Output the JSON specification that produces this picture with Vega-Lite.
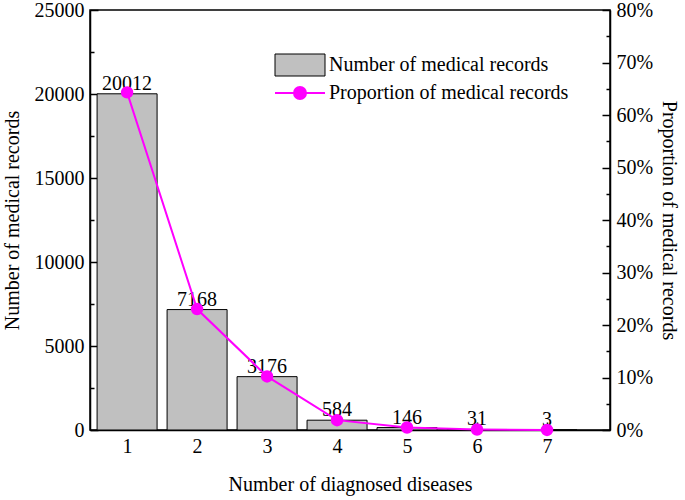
{
  "$schema": "https://vega.github.io/schema/vega-lite/v6.json",
  "autosize": "none",
  "width": 520,
  "height": 420,
  "padding": {"left": 90, "top": 10, "right": 75, "bottom": 70},
  "background": "white",
  "config": {
    "font": "Liberation Serif",
    "view": {"stroke": "black", "strokeWidth": 1.5},
    "axis": {"grid": false, "domainColor": "black", "domainWidth": 1.5, "labelFont": "Liberation Serif", "titleFont": "Liberation Serif", "labelFontSize": 20, "titleFontSize": 20, "labelColor": "black", "titleColor": "black", "titleFontWeight": "normal"},
    "legend": {"labelFont": "Liberation Serif", "labelFontSize": 20, "labelColor": "black", "labelLimit": 0}
  },
  "data": {"values": [
    {"n": 1, "count": 20012, "prop": 0.6431},
    {"n": 2, "count": 7168, "prop": 0.2303},
    {"n": 3, "count": 3176, "prop": 0.1021},
    {"n": 4, "count": 584, "prop": 0.01877},
    {"n": 5, "count": 146, "prop": 0.00469},
    {"n": 6, "count": 31, "prop": 0.000996},
    {"n": 7, "count": 3, "prop": 0.0000964}
  ]},
  "encoding": {
    "x": {"field": "n", "type": "quantitative", "scale": {"domain": [0.47, 7.9], "nice": false, "zero": false, "padding": 0},
      "axis": {"title": "Number of diagnosed diseases", "titlePadding": 18, "values": [1,1.5,2,2.5,3,3.5,4,4.5,5,5.5,6,6.5,7,7.5],
        "format": "d", "ticks": true, "tickColor": "#000000", "tickWidth": 1.5,
        "labelExpr": "datum.value % 1 === 0 ? datum.label : ''",
        "tickSize": {"condition": {"test": "datum.value % 1 === 0", "value": -8}, "value": -4},
        "labelPadding": 14}}
  },
  "layer": [
    {
      "layer": [
        {"mark": {"type": "bar", "width": 60, "stroke": "black", "strokeWidth": 1},
         "encoding": {
           "y": {"field": "count", "type": "quantitative", "scale": {"domain": [0, 25000], "nice": false},
             "axis": {"title": "Number of medical records", "titlePadding": 12, "values": [0,2500,5000,7500,10000,12500,15000,17500,20000,22500,25000],
               "labelExpr": "datum.value % 5000 === 0 ? datum.label : ''", "format": "d", "ticks": true, "tickColor": "#000000", "tickWidth": 1.5,
               "tickSize": {"condition": {"test": "datum.value % 5000 === 0", "value": -8}, "value": -4},
               "labelPadding": 14}},
           "fill": {"datum": "Number of medical records", "type": "nominal",
             "scale": {"range": ["#c0c0c0"]},
             "legend": {"title": null, "orient": "none", "legendX": 200, "legendY": 45, "padding": 0, "symbolSize": 100, "labelOffset": 19,
               "symbolType": "M-5,-2.2H5V2.2H-5Z", "symbolStrokeColor": "black", "symbolStrokeWidth": 1, "symbolOpacity": 1}}
         }},
        {"mark": {"type": "text", "baseline": "alphabetic", "dy": -4, "fontSize": 20, "color": "black"},
         "encoding": {
           "y": {"field": "count", "type": "quantitative"},
           "text": {"field": "count", "type": "quantitative", "format": "d"}
         }}
      ]
    },
    {
      "mark": {"type": "line", "strokeWidth": 2, "point": {"filled": true, "fill": "#ff00ff", "size": 110}},
      "encoding": {
        "y": {"field": "prop", "type": "quantitative", "scale": {"domain": [0, 0.8], "nice": false},
          "axis": {"orient": "right", "title": "Proportion of medical records", "titlePadding": 6, "values": [0,0.05,0.1,0.15,0.2,0.25,0.3,0.35,0.4,0.45,0.5,0.55,0.6,0.65,0.7,0.75,0.8],
            "format": ".0%", "ticks": true, "tickColor": "#000000", "tickWidth": 1.5,
            "labelExpr": "round(datum.value*100) % 10 === 0 ? datum.label : ''",
            "tickSize": {"condition": {"test": "round(datum.value*100) % 10 === 0", "value": -8}, "value": -4},
            "labelPadding": 14}},
        "stroke": {"datum": "Proportion of medical records", "type": "nominal",
          "scale": {"range": ["#ff00ff"]},
          "legend": {"title": null, "orient": "none", "legendX": 200, "legendY": 73, "padding": 0, "symbolSize": 100, "labelOffset": 19,
            "symbolType": "M-5,0H5M1.2,0A1.2,1.2 0 1 1 -1.2,0A1.2,1.2 0 1 1 1.2,0", "symbolFillColor": "#ff00ff", "symbolStrokeWidth": 2, "symbolOpacity": 1}}
      }
    }
  ],
  "resolve": {"scale": {"y": "independent"}}
}
